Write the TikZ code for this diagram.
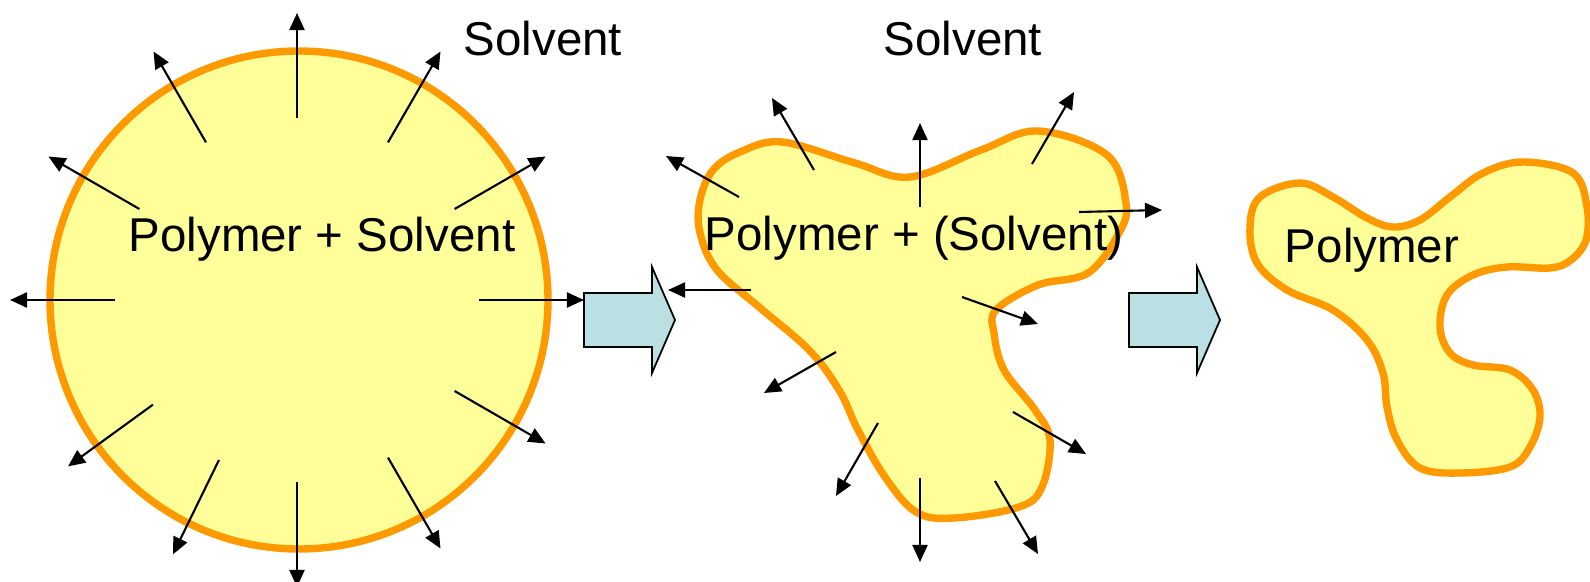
\documentclass[tikz,border=0pt]{standalone}
\usepackage{fontspec}
\setmainfont{Liberation Sans}
\usetikzlibrary{arrows.meta, calc}

\definecolor{blobfill}{RGB}{255,255,153}
\definecolor{blobline}{RGB}{255,153,0}
\definecolor{stepfill}{RGB}{187,224,227}

\begin{document}
\begin{tikzpicture}[
    x=0.01cm, y=-0.01cm,
    blob/.style={fill=blobfill, draw=blobline, line width=2.1pt},
    flux/.style={line width=0.6pt, -{Triangle[length=0.17cm, width=0.15cm]}},
    stepbox/.style={fill=stepfill, draw=black, line width=0.5pt},
    label/.style={font=\fontsize{13.5}{16}\selectfont, anchor=base}
]
\useasboundingbox (0,0) rectangle (1590,582);

% Swollen polymer: circle
\coordinate (c1) at (297,300);
\draw[blob] (299,300) circle[radius=249];
\foreach \a/\r/\s in {0/182/287, 30/182/287, 60/182/287, 90/182/287, 116/178/283,
    144/178/283, 180/182/287, 210/182/287, 240/182/287, 270/182/287,
    300/182/287, 330/182/287} {
    \draw[flux] ($(c1)+(\a:\r)$) -- ($(c1)+(\a:\s)$);
}
\node[label] (mix) at (322,252) {Polymer + Solvent};
\node[label] (solv1) at (543,56) {Solvent};

% Block arrows between the stages
\draw[stepbox] (584,293) -- (652,293) -- (652,267) -- (675,320) -- (652,373) -- (652,347) -- (584,347) -- cycle;
\draw[stepbox] (1129,293) -- (1197,293) -- (1197,267) -- (1220,320) -- (1197,373) -- (1197,347) -- (1129,347) -- cycle;

% Shrinking polymer: three lobes
\draw[blob] plot[smooth cycle, tension=0.6] coordinates {
    (782,142) (855,163) (910,177) (981,150) (1038,131) (1107,155)
    (1126,203) (1119,233) (1088,273) (1038,285) (996,310) (994,333)
    (1004,370) (1035,410) (1050,440) (1042,487) (1019,507) (954,518)
    (916,512) (885,477) (858,430) (839,390) (809,350) (759,307)
    (717,270) (700,233) (700,200) (713,170) (740,152)};
\foreach \x/\y/\u/\v in {
    814/170/772/98, 739/197/666/156, 920/207/920/123, 1032/164/1074/92,
    1079/212/1162/210, 751/290/668/290, 962/297/1038/324, 836/352/764/393,
    1013/412/1086/454, 878/423/836/496, 920/478/920/562, 995/481/1038/554} {
    \draw[flux] (\x,\y) -- (\u,\v);
}
\node[label] (mix2) at (914,251) {Polymer + (Solvent)};
\node[label] (solv2) at (963,56) {Solvent};

% Dry polymer
\draw[blob] plot[smooth cycle, tension=0.6] coordinates {
    (1300,183) (1333,197) (1367,218) (1393,227) (1420,220) (1450,197)
    (1483,173) (1523,162) (1573,173) (1587,207) (1586,240) (1571,260)
    (1550,268) (1507,267) (1473,275) (1447,295) (1440,327) (1450,353)
    (1473,365) (1510,370) (1533,390) (1540,417) (1530,447) (1510,467)
    (1460,473) (1420,468) (1397,440) (1387,407) (1383,373) (1367,340)
    (1333,310) (1287,290) (1257,263) (1250,227) (1260,197)};
\node[label] (dry) at (1372,263) {Polymer};
\end{tikzpicture}
\end{document}
